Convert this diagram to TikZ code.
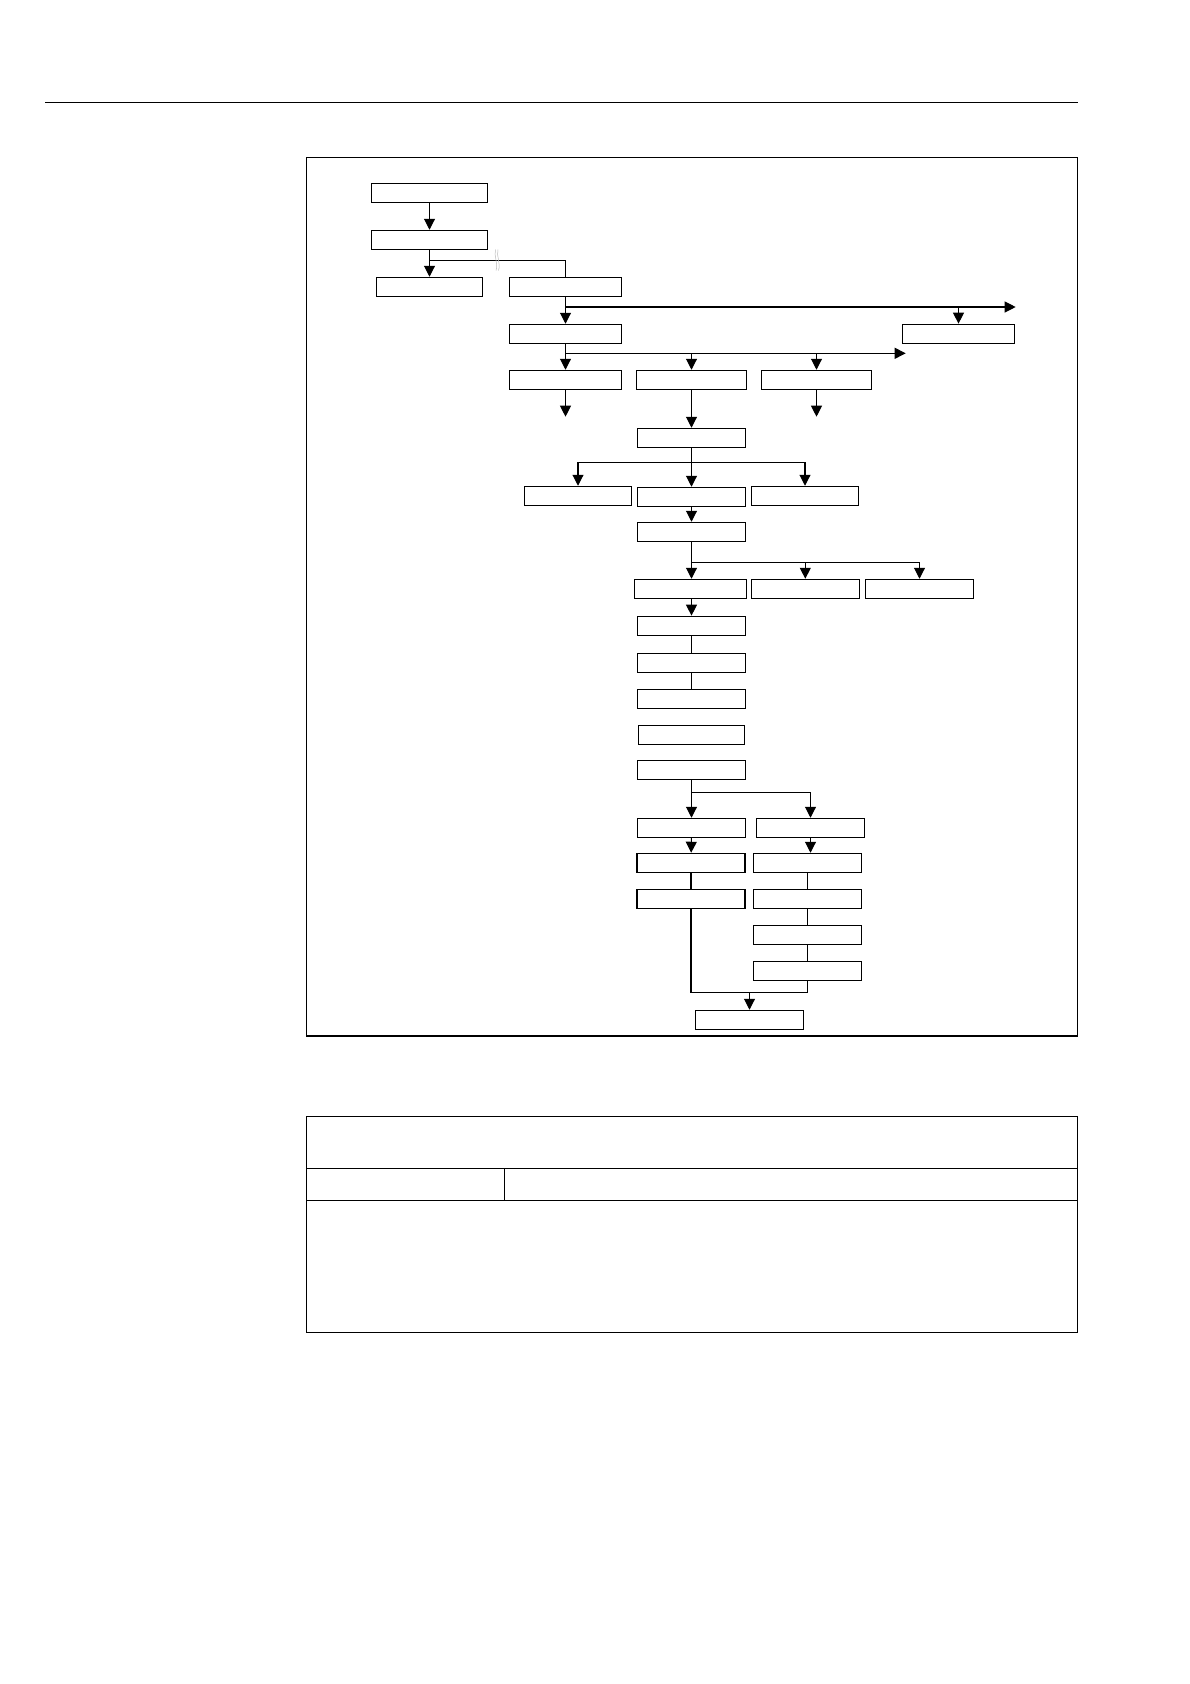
\documentclass[tikz,border=0pt]{standalone}
\usetikzlibrary{arrows.meta}
\begin{document}
\begin{tikzpicture}[x=1pt,y=-1pt,
    blk/.style={draw,line width=1.1pt,inner sep=0pt,minimum height=19},
    con/.style={line width=1.1pt},
    arr/.style={con,-{Triangle[width=11pt,length=11pt]}}]
\useasboundingbox (0,0) rectangle (1190,1684);
\draw[line width=1.3pt] (45,102.3) -- (1077.5,102.3);
\draw[line width=1.3pt] (306.3,157.3) rectangle (1077.7,1036);
% boxes
\foreach \n/\x/\y/\w in {b1/429.5/192.8/116.4, b2/429.5/239.8/116.4, b3/429.5/286.8/106.4,
    b4/565.5/286.8/112.4, b5/565.5/333.8/112.4, b6/565.5/379.8/112.4,
    b7/691.5/379.8/110.4, b8/958.5/333.7/112.4, b9/816.5/379.8/110.4,
    b10/691.5/437.8/107.4, b11/578/495.8/107.4, b12/691.5/496.8/107.4, b13/805/495.8/107,
    b14/691.5/531.8/107.4, b15/690.5/588.8/111.4, b16/805.3/588.8/108, b17/919.5/588.8/108.4,
    b18/691.5/625.7/108.4, b19/691.5/662.8/108.4, b20/691.5/698.8/108.4,
    b21/691.5/734.8/106.4, b22/691.5/769.8/108.4,
    b23/691.5/827.8/108.4, b24/810.5/827.8/108.4,
    b25/691/862.8/108, b26/807.5/862.8/108.4, b27/691/898.8/108, b28/807.5/898.8/108.4,
    b29/807.5/934.8/108.4, b30/807.5/970.8/108.4, b31/749.5/1019.8/108.4}
  \node[blk,minimum width=\w] (\n) at (\x,\y) {};
% junctions and free ends
\coordinate (j1) at (429.5,260.3);
\coordinate (j2) at (565.5,307);   \coordinate (e1) at (1015.7,307);
\coordinate (j3) at (565.5,353.3); \coordinate (e2) at (905.7,353.3);
\coordinate (e3) at (565.5,416.7); \coordinate (e4) at (816.5,416.7);
\coordinate (j4) at (691.5,462.3);
\coordinate (j5) at (691.5,562.3);
\coordinate (j6) at (691.5,792.3);
\coordinate (j7) at (749.5,992.3);
% connectors
\draw[arr] (b1) -- (b2);
\draw[arr] (b2) -- (b3);
\draw[con] (j1) -| (b4.north);
\draw[gray!55,line width=0.5pt] (495.5,249.5) .. controls (493.5,256) and (498.5,263) .. (496,270.5);
\draw[gray!55,line width=0.5pt] (498,249.5) .. controls (496,256) and (501,263) .. (498.5,270.5);
\draw[arr] (b4) -- (b5);
\draw[arr] (j2) -- (e1);
\draw[arr] (j2 -| b8) -- (b8);
\draw[arr] (b5) -- (b6);
\draw[arr] (j3) -- (e2);
\foreach \t in {b7,b9} \draw[arr] (j3 -| \t) -- (\t);
\draw[arr] (b6) -- (e3);
\draw[arr] (b9) -- (e4);
\draw[arr] (b7) -- (b10);
\draw[con] (b10) -- (j4);
\draw[con] (j4 -| b11) -- (j4 -| b13);
\foreach \t in {b11,b12,b13} \draw[arr] (j4 -| \t) -- (\t);
\draw[arr] (b12) -- (b14);
\draw[con] (b14) -- (j5) -- (j5 -| b17);
\foreach \t in {b16,b17} \draw[arr] (j5 -| \t) -- (\t);
\draw[arr] (j5) -- (j5 |- b15.north);
\draw[arr] (b15.south -| b18) -- (b18);
\draw[con] (b18) -- (b19) -- (b20);
\draw[con] (b22) -- (j6) -- (j6 -| b24);
\foreach \t in {b23,b24} \draw[arr] (j6 -| \t) -- (\t);
\draw[arr] (b23) -- (b25);
\draw[arr] (b24.south) -- (b24.south |- b26.north);
\draw[con] (b25) -- (b27);
\draw[con] (b26) -- (b28) -- (b29) -- (b30);
\draw[con] (b27) |- (j7 -| b30) -- (b30);
\draw[arr] (j7) -- (b31);
% table below
\draw[line width=1.3pt] (306.3,1116.3) rectangle (1077.7,1332.3);
\draw[line width=1.3pt] (306.3,1168.3) -- (1077.7,1168.3) (306.3,1200.3) -- (1077.7,1200.3)
  (504.3,1168.3) -- (504.3,1200.3);
\end{tikzpicture}
\end{document}
